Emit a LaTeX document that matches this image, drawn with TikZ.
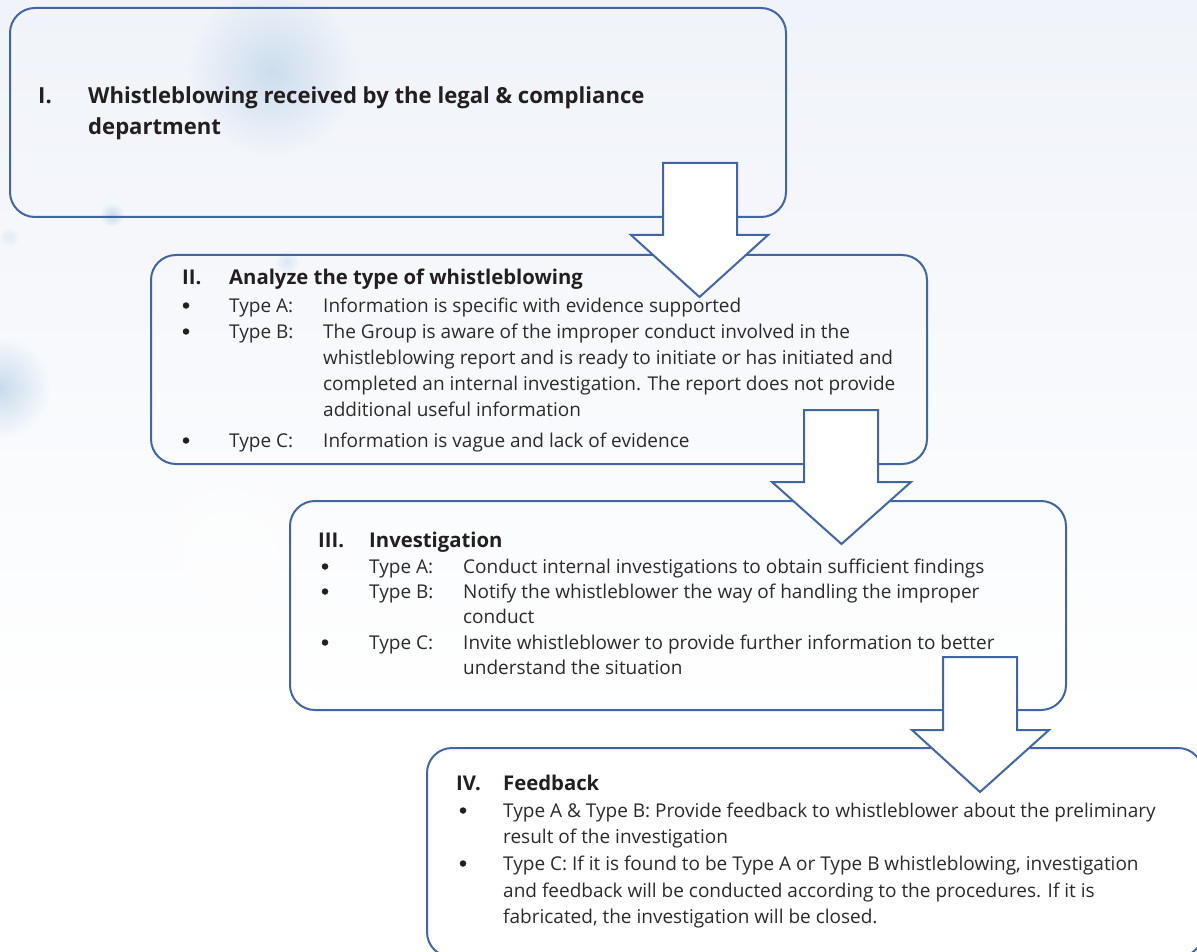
\documentclass[tikz,border=0pt]{standalone}
\usepackage{fontspec}
\setmainfont{Open Sans}
\usetikzlibrary{fadings}
\tikzfading[name=blobfade, inner color=transparent!0, outer color=transparent!100]
\definecolor{boxblue}{RGB}{66,102,164}
\definecolor{txt}{RGB}{35,31,32}
\definecolor{bodytxt}{RGB}{45,42,44}
\definecolor{bgtop}{RGB}{240,243,249}
\definecolor{blob}{RGB}{196,216,234}
\begin{document}
\begin{tikzpicture}[x=1pt,y=-1pt,
  box/.style={draw=boxblue, line width=2pt, rounded corners=25pt, anchor=north west,
    minimum width=776pt, minimum height=209pt, inner sep=0pt, outer sep=0pt},
  blockarrow/.style={draw=boxblue, fill=white, line width=2pt, line join=miter},
  body/.style={anchor=base west, inner sep=0pt, text=bodytxt, font=\fontsize{19}{25}\selectfont},
  head/.style={anchor=base west, inner sep=0pt, text=txt, font=\fontsize{20.3}{26}\selectfont\bfseries},
  headone/.style={anchor=base west, inner sep=0pt, text=txt, font=\fontsize{22.1}{28}\selectfont\bfseries},
  dot/.style={circle, fill=txt, inner sep=0pt, minimum size=6.5pt},
]
\useasboundingbox (0,0) rectangle (1197,952);
\clip (0,0) rectangle (1197,952);
% background
\shade[top color=bgtop, bottom color=white] (0,0) rectangle (1197,720);
\fill[white] (0,719) rectangle (1197,952);
\fill[blob, opacity=0.8, path fading=blobfade] (272,72) circle (84pt);
\fill[blob, opacity=0.9, path fading=blobfade] (0,388) circle (50pt);
\fill[blob, opacity=0.9, path fading=blobfade] (112,215) circle (12pt);
\fill[blob, opacity=0.5, path fading=blobfade] (287,262) circle (12pt);
\fill[blob, opacity=0.4, path fading=blobfade] (9,237) circle (10pt);
\fill[white, opacity=0.5, path fading=blobfade] (230,560) circle (140pt);

% boxes
\node[box] (b1) at (10,8) {};
\node[box] (b2) at (151,255) {};
\node[box] (b3) at (290,501) {};
\node[box] (b4) at (427,748) {};

% block arrows
\draw[blockarrow] (663,163) -- (737,163) -- (737,235) -- (768,235) -- (699.5,297)
  -- (631,235) -- (663,235) -- cycle;
\draw[blockarrow] (804,410) -- (878,410) -- (878,482) -- (911,482) -- (841.5,544)
  -- (772,482) -- (804,482) -- cycle;
\draw[blockarrow] (943,657) -- (1017,657) -- (1017,730) -- (1049,730) -- (980,792)
  -- (912,730) -- (943,730) -- cycle;

% box I
\node[headone] (n1) at (38,104) {I.};
\node[headone] (t1) at (88,104) {Whistleblowing received by the legal \& compliance};
\node[headone] (t1b) at (88,135) {department};

% box II
\node[head] (n2) at (182,284) {II.};
\node[head] (t2) at (229,284) {Analyze the type of whistleblowing};
\node[dot] (d2a) at (186,305.5) {};
\node[dot] (d2b) at (186,331.5) {};
\node[dot] (d2c) at (186,440.5) {};
\node[body] (k2a) at (229,312) {Type A:};
\node[body] (k2b) at (229,338) {Type B:};
\node[body] (k2c) at (229,447) {Type C:};
\node[body] (v2a) at (323,312) {Information is specific with evidence supported};
\node[body] (v2b1) at (323,338) {The Group is aware of the improper conduct involved in the};
\node[body] (v2b2) at (323,364) {whistleblowing report and is ready to initiate or has initiated and};
\node[body] (v2b3) at (323,390) {completed an internal investigation. The report does not provide};
\node[body] (v2b4) at (323,416) {additional useful information};
\node[body] (v2c) at (323,447) {Information is vague and lack of evidence};

% box III
\node[head] (n3) at (318,547) {III.};
\node[head] (t3) at (369,547) {Investigation};
\node[dot] (d3a) at (325,566.5) {};
\node[dot] (d3b) at (325,591.5) {};
\node[dot] (d3c) at (325,642.5) {};
\node[body] (k3a) at (369,573) {Type A:};
\node[body] (k3b) at (369,598) {Type B:};
\node[body] (k3c) at (369,649) {Type C:};
\node[body] (v3a) at (463,573) {Conduct internal investigations to obtain sufficient findings};
\node[body] (v3b1) at (463,598) {Notify the whistleblower the way of handling the improper};
\node[body] (v3b2) at (463,623) {conduct};
\node[body] (v3c1) at (463,649) {Invite whistleblower to provide further information to better};
\node[body] (v3c2) at (463,674) {understand the situation};

% box IV
\node[head] (n4) at (456,790) {IV.};
\node[head] (t4) at (503,790) {Feedback};
\node[dot] (d4a) at (463,810.5) {};
\node[dot] (d4b) at (463,863.5) {};
\node[body] (v4a1) at (503,817) {Type A \& Type B: Provide feedback to whistleblower about the preliminary};
\node[body] (v4a2) at (503,843) {result of the investigation};
\node[body] (v4b1) at (503,870) {Type C: If it is found to be Type A or Type B whistleblowing, investigation};
\node[body] (v4b2) at (503,897) {and feedback will be conducted according to the procedures. If it is};
\node[body] (v4b3) at (503,923) {fabricated, the investigation will be closed.};
\end{tikzpicture}
\end{document}
